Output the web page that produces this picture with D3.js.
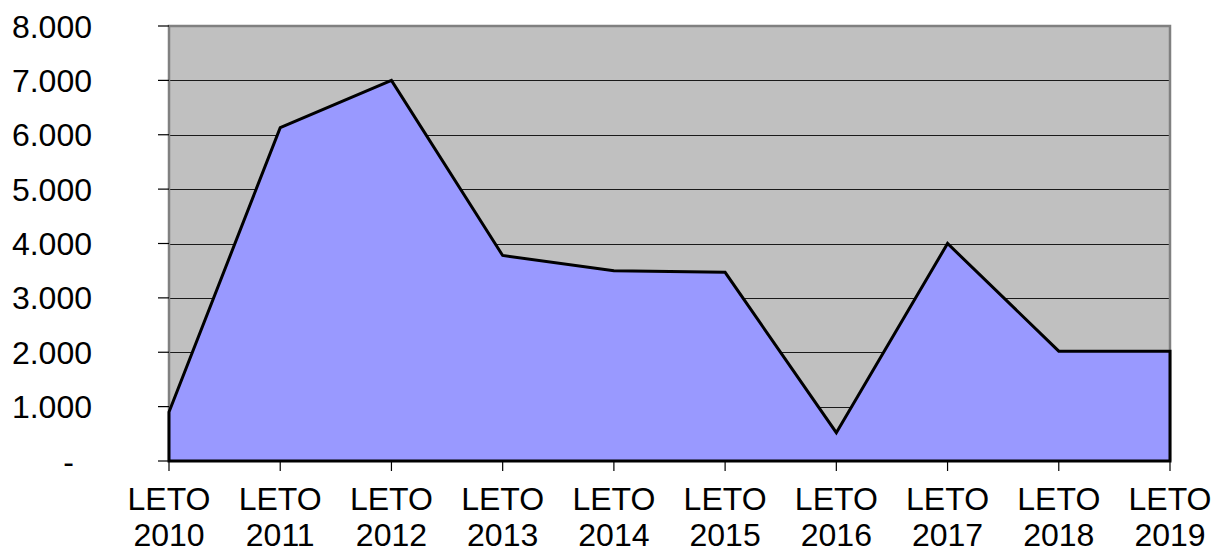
<!DOCTYPE html>
<html>
<head>
<meta charset="utf-8">
<script src="https://cdn.jsdelivr.net/npm/d3@7"></script>
<style>
  html, body { margin: 0; padding: 0; background: #fff; }
  svg text { font-family: "Liberation Sans", Arial, sans-serif; fill: #000; }
</style>
</head>
<body>
<div id="drawing_region"></div>
<script>
// data
const years = ["2010", "2011", "2012", "2013", "2014", "2015", "2016", "2017", "2018", "2019"];
const values = [900, 6130, 7000, 3780, 3500, 3470, 520, 4000, 2020, 2020];
const yTicks = [0, 1000, 2000, 3000, 4000, 5000, 6000, 7000, 8000];
const catPrefix = "LETO";

const config = {
    width: 1217,
    height: 552,
    margin: { top: 26, right: 47, bottom: 91, left: 169 },
};

const W = config.width, H = config.height, m = config.margin;

const svg = d3.select('#drawing_region')
    .append('svg')
    .attr('width', W)
    .attr('height', H)
    .attr('viewBox', `0 0 ${W} ${H}`);

const x = d3.scalePoint()
    .domain(years)
    .range([m.left, W - m.right]);

const y = d3.scaleLinear()
    .domain([0, 8000])
    .range([H - m.bottom, m.top]);

// plot area background
svg.append('rect')
    .attr('x', m.left)
    .attr('y', m.top)
    .attr('width', W - m.right - m.left)
    .attr('height', H - m.bottom - m.top)
    .attr('fill', '#C0C0C0');

// gridlines
svg.append('g')
    .selectAll('line')
    .data(yTicks.filter(d => d > 0 && d < 8000))
    .enter()
    .append('line')
    .attr('x1', m.left)
    .attr('x2', W - m.right)
    .attr('y1', d => Math.round(y(d)) + 0.5)
    .attr('y2', d => Math.round(y(d)) + 0.5)
    .attr('stroke', '#1a1a1a')
    .attr('stroke-width', 1.2);

// outer border (gray)
svg.append('path')
    .attr('d', `M${m.left},${H - m.bottom} V${m.top} H${W - m.right} V${H - m.bottom}`)
    .attr('fill', 'none')
    .attr('stroke', '#808080')
    .attr('stroke-width', 2.5);

// area
const area = d3.area()
    .x((d, i) => x(years[i]))
    .y0(y(0))
    .y1(d => y(d));

svg.append('path')
    .datum(values)
    .attr('d', area(values))
    .attr('fill', '#9999FF')
    .attr('stroke', '#000')
    .attr('stroke-width', 3)
    .attr('stroke-linejoin', 'miter');

// y axis ticks and labels
const fmt = d => d === 0 ? '-' : d3.format(',')(d).replace(/,/g, '.');

const yAxis = svg.append('g');
yAxis.selectAll('line')
    .data(yTicks)
    .enter()
    .append('line')
    .attr('x1', m.left - 11)
    .attr('x2', m.left)
    .attr('y1', d => y(d))
    .attr('y2', d => y(d))
    .attr('stroke', '#000')
    .attr('stroke-width', 1.2);

yAxis.selectAll('text')
    .data(yTicks)
    .enter()
    .append('text')
    .attr('x', d => d === 0 ? 74 : 92)
    .attr('y', d => y(d))
    .attr('dy', '0.36em')
    .attr('text-anchor', 'end')
    .attr('font-size', 32)
    .text(fmt);

// x axis ticks and labels
const xAxis = svg.append('g');
xAxis.selectAll('line')
    .data(years)
    .enter()
    .append('line')
    .attr('x1', d => x(d))
    .attr('x2', d => x(d))
    .attr('y1', y(0))
    .attr('y2', y(0) + 10)
    .attr('stroke', '#000')
    .attr('stroke-width', 1.2);

const xl = xAxis.selectAll('text')
    .data(years)
    .enter()
    .append('text')
    .attr('text-anchor', 'middle')
    .attr('font-size', 32);

xl.append('tspan')
    .attr('x', d => x(d))
    .attr('y', 510)
    .text(catPrefix);

xl.append('tspan')
    .attr('x', d => x(d))
    .attr('y', 546)
    .text(d => d);
</script>
</body>
</html>
